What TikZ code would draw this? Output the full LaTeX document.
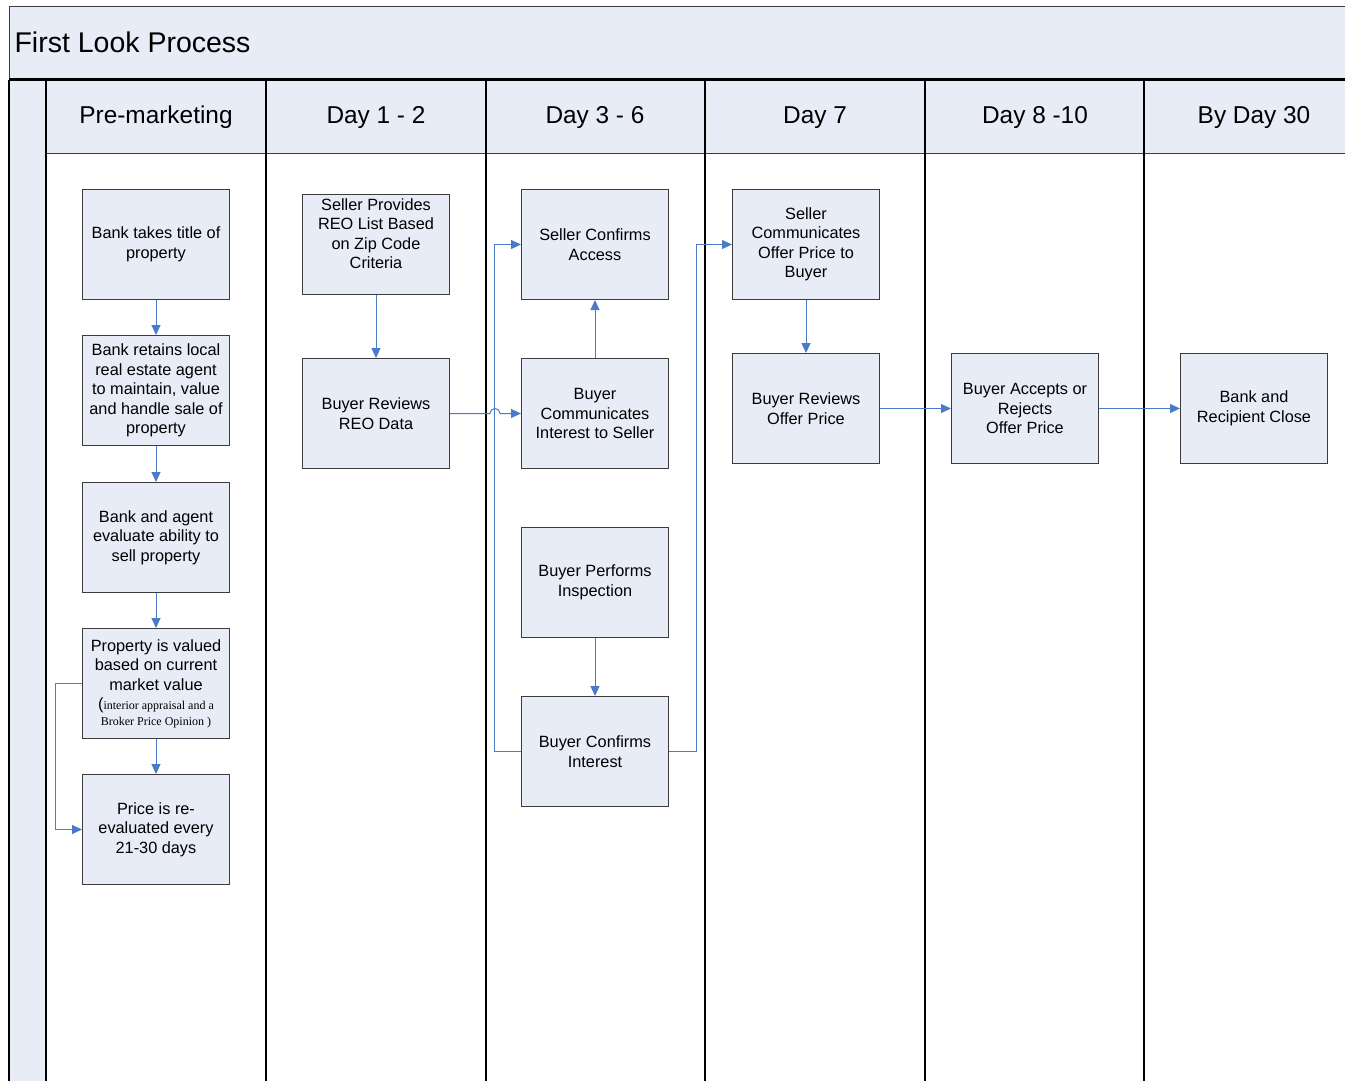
\documentclass[tikz,border=0pt]{standalone}
\usepackage{fontspec}
\setmainfont{Liberation Sans}
\newfontfamily\timesfont{Liberation Serif}
\usetikzlibrary{arrows.meta}
\definecolor{laneblue}{RGB}{231,236,247}
\definecolor{boxgray}{RGB}{60,60,60}
\definecolor{flowblue}{RGB}{74,122,200}

\begin{document}
\begin{tikzpicture}[x=1pt,y=-1pt,
	proc_node/.style={rectangle,draw=boxgray,fill=laneblue,line width=1pt,minimum width=147,minimum height=110,align=center,inner sep=2pt,font=\fontsize{16.3}{19.5}\selectfont},
	lane_head/.style={font=\fontsize{24.4}{28}\selectfont},
	flow_arrow/.style={draw=flowblue,line width=1pt,-{Triangle[length=10pt,width=9pt]}},
	lane_line/.style={draw=black,line width=1.5pt}]
		
		\useasboundingbox (0,0) rectangle (1345,1081);
		\fill[laneblue] (9,7) rectangle (1350,79);
		\draw[boxgray,line width=1pt] (1350,7) -- (9,7) -- (9,80);
		\fill[laneblue] (9,80) rectangle (46,1081);
		\fill[laneblue] (46,80) rectangle (1350,153);
		\draw[boxgray,line width=1pt] (46,153) -- (1350,153);
		\draw[black,line width=2.5pt] (9,79.5) -- (1350,79.5);
		\draw[lane_line] (9,80) -- (9,1081);
		\draw[lane_line] (46,80) -- (46,1081);
		\draw[lane_line] (266,80) -- (266,1081);
		\draw[lane_line] (486,80) -- (486,1081);
		\draw[lane_line] (705,80) -- (705,1081);
		\draw[lane_line] (925,80) -- (925,1081);
		\draw[lane_line] (1144,80) -- (1144,1081);
		
		\node[anchor=west,font=\fontsize{28.5}{32}\selectfont] (title) at (11,42) {First Look Process};
		\node[lane_head] (h1) at (156,117.5) {Pre-marketing};
		\node[lane_head] (h2) at (376,117.5) {Day 1 - 2};
		\node[lane_head] (h3) at (595,117.5) {Day 3 - 6};
		\node[lane_head] (h4) at (815,117.5) {Day 7};
		\node[lane_head] (h5) at (1035,117.5) {Day 8 -10};
		\node[lane_head] (h6) at (1254,117.5) {By Day 30};
		
		\node[proc_node] (b1) at (156,244.5) {Bank takes title of\\property};
		\node[proc_node] (b2) at (156,390.5) {Bank retains local\\real estate agent\\to maintain, value\\and handle sale of\\property};
		\node[proc_node] (b3) at (156,537.5) {Bank and agent\\evaluate ability to\\sell property};
		\node[proc_node] (b4) at (156,683.5) {Property is valued\\based on current\\market value\\({\timesfont\fontsize{12}{16}\selectfont interior appraisal and a}\\[-4pt]{\timesfont\fontsize{12}{16}\selectfont Broker Price Opinion )}};
		\node[proc_node] (b5) at (156,829.5) {Price is re-\\evaluated every\\21-30 days};
		
		\node[proc_node,minimum height=100] (s1) at (376,244.5) {Seller Provides\\REO List Based\\on Zip Code\\Criteria\rule[-22pt]{0pt}{0pt}};
		\node[proc_node] (s2) at (376,413.5) {Buyer Reviews\\REO Data};
		
		\node[proc_node] (c1) at (595,244.5) {Seller Confirms\\Access};
		\node[proc_node] (c2) at (595,413.5) {Buyer\\Communicates\\Interest to Seller};
		\node[proc_node] (c3) at (595,582.5) {Buyer Performs\\Inspection};
		\node[proc_node] (c4) at (595,751.5) {Buyer Confirms\\Interest};
		
		\node[proc_node] (o1) at (806,244.5) {Seller\\Communicates\\Offer Price to\\Buyer};
		\node[proc_node] (o2) at (806,408.5) {Buyer Reviews\\Offer Price};
		\node[proc_node] (a1) at (1025,408.5) {Buyer Accepts or\\Rejects\\Offer Price};
		\node[proc_node] (k1) at (1254,408.5) {Bank and\\Recipient Close};
		

		\draw[flow_arrow] (b1) -- (b2);
		\draw[flow_arrow] (b2) -- (b3);
		\draw[flow_arrow] (b3) -- (b4);
		\draw[flow_arrow] (b4) -- (b5);
		\draw[flow_arrow] (b4.west) -- ++(-27,0) |- (b5.west);
		\draw[flow_arrow] (s1) -- (s2);
		\draw[flow_arrow] (s2.east) -- (490,413.5) arc[start angle=180,end angle=0,radius=5pt] -- (c2.west);
		\draw[flow_arrow] (c2) -- (c1);
		\draw[flow_arrow] (c3) -- (c4);
		\draw[flow_arrow] (c4.west) -- ++(-27,0) |- (c1.west);
		\draw[flow_arrow] (c4.east) -- ++(27.5,0) |- (o1.west);
		\draw[flow_arrow] (o1) -- (o2);
		\draw[flow_arrow] (o2) -- (a1);
		\draw[flow_arrow] (a1) -- (k1);
		\end{tikzpicture}
\end{document}
